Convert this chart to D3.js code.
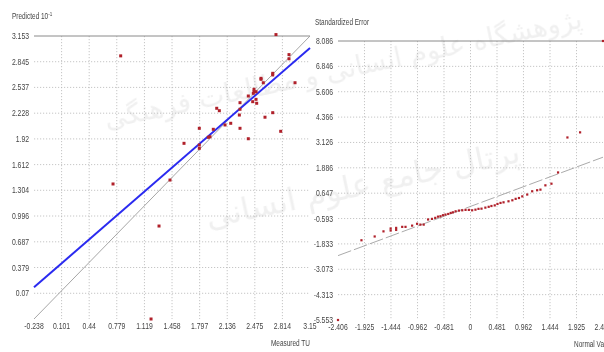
<!DOCTYPE html>
<html>
<head>
<meta charset="utf-8">
<script src="https://cdn.jsdelivr.net/npm/d3@7"></script>
<style>
  html, body { margin: 0; padding: 0; background: #fff; }
  svg { display: block; filter: blur(0.35px); }
  .tick-label { font-family: "Liberation Sans", Arial, sans-serif; font-size: 9px; fill: #444; }
  .axis-title { font-family: "Liberation Sans", Arial, sans-serif; font-size: 8.5px; fill: #444; }
</style>
</head>
<body>
<svg id="chart" width="604" height="352"></svg>
<script>
// Left panel: predicted vs measured
const measuredTU = [2.735, 0.827, 2.895, 2.895, 2.695, 2.695, 2.551, 2.551, 2.579, 2.969,
  2.465, 2.465, 2.49, 2.456, 2.395, 2.49, 2.449, 2.498, 2.293, 2.007, 2.039, 2.293, 2.285,
  2.695, 2.60, 2.179, 2.109, 2.293, 1.965, 1.793, 1.924, 1.904, 2.793, 2.395, 1.793, 1.793,
  1.605, 1.433, 0.733, 1.298, 1.20];
const predictedTU = [3.17, 2.915, 2.93, 2.88, 2.706, 2.686, 2.646, 2.634, 2.593, 2.593,
  2.514, 2.485, 2.485, 2.466, 2.434, 2.394, 2.366, 2.347, 2.354, 2.287, 2.258, 2.275, 2.206,
  2.234, 2.18, 2.107, 2.087, 2.047, 2.035, 2.047, 1.946, 1.939, 2.011, 1.922, 1.847, 1.807,
  1.867, 1.427, 1.38, 0.876, -0.238];
const leftXTicks = [-0.238, 0.101, 0.44, 0.779, 1.119, 1.458, 1.797, 2.136, 2.475, 2.814, 3.153];
const leftXLabels = ["-0.238", "0.101", "0.44", "0.779", "1.119", "1.458", "1.797", "2.136", "2.475", "2.814", "3.15"];
const leftYTicks = [-0.238, 0.07, 0.379, 0.687, 0.996, 1.304, 1.612, 1.92, 2.228, 2.537, 2.845, 3.153];
const leftYLabels = ["", "0.07", "0.379", "0.687", "0.996", "1.304", "1.612", "1.92", "2.228", "2.537", "2.845", "3.153"];
const fitMeasured = [-0.238, 3.153];
const fitPredicted = [0.142, 3.01];

// Right panel: normal probability plot of standardized error
const normalValue = [-2.406, -1.98, -1.74, -1.58, -1.45, -1.45, -1.35, -1.35, -1.24, -1.18, -1.06,
  -0.97, -0.91, -0.85, -0.77, -0.70, -0.64, -0.59, -0.545, -0.50, -0.455, -0.405, -0.36,
  -0.32, -0.27, -0.21, -0.15, -0.09, -0.03, 0.03, 0.09, 0.145, 0.20, 0.27, 0.33, 0.38, 0.44,
  0.49, 0.545, 0.60, 0.69, 0.76, 0.82, 0.88, 0.94, 1.03, 1.12, 1.21, 1.27, 1.36, 1.47, 1.59,
  1.76, 1.99, 2.406];
const standardizedError = [-5.553, -1.655, -1.47, -1.22, -1.08, -1.18, -1.05, -1.15, -1.00, -1.00,
  -0.94, -0.85, -0.89, -0.89, -0.64, -0.61, -0.56, -0.50, -0.48, -0.43, -0.40, -0.37, -0.32,
  -0.29, -0.24, -0.205, -0.19, -0.17, -0.17, -0.19, -0.16, -0.12, -0.11, -0.06, -0.02, 0.02,
  0.05, 0.12, 0.17, 0.20, 0.25, 0.30, 0.37, 0.41, 0.49, 0.58, 0.74, 0.79, 0.82, 1.03, 1.11,
  1.66, 3.37, 3.62, 8.086];
const rightXTicks = [-2.406, -1.925, -1.444, -0.962, -0.481, 0, 0.481, 0.962, 1.444, 1.925, 2.406];
const rightXLabels = ["-2.406", "-1.925", "-1.444", "-0.962", "-0.481", "0", "0.481", "0.962", "1.444", "1.925", "2.406"];
const rightYTicks = [-5.553, -4.313, -3.073, -1.833, -0.593, 0.647, 1.886, 3.126, 4.366, 5.606, 6.846, 8.086];
const rightYLabels = ["-5.553", "-4.313", "-3.073", "-1.833", "-0.593", "0.647", "1.886", "3.126", "4.366", "5.606", "6.846", "8.086"];
const refNormal = [-2.406, 2.406];
const refError = [-2.406, 2.406];

const svg = d3.select("#chart");
const markColor = "#b0202a";
const squeeze = 0.76; // narrow type

// faint background text
const wm = svg.append("g").attr("fill", "#8c8c8c").attr("opacity", 0.13)
  .style("font-family", "DejaVu Sans, sans-serif");
wm.append("text").attr("transform", "translate(345,78) rotate(-12)")
  .attr("text-anchor", "middle").attr("font-size", 27)
  .text("پژوهشگاه علوم انسانی و مطالعات فرهنگی");
wm.append("text").attr("transform", "translate(365,195) rotate(-12)")
  .attr("text-anchor", "middle").attr("font-size", 32)
  .text("پرتال جامع علوم انسانی");

function label(sel, x, y) {
  sel.attr("transform", (d, i) => `translate(${x(d, i)},${y(d, i)}) scale(${squeeze},1)`);
}

function panel(cfg) {
  const g = svg.append("g");
  const x = d3.scaleLinear().domain(cfg.xDomain).range(cfg.xRange);
  const y = d3.scaleLinear().domain(cfg.yDomain).range(cfg.yRange);

  // dotted grid
  g.append("g").selectAll("line").data(cfg.xTicks.slice(1, -1)).join("line")
    .attr("x1", d => x(d)).attr("x2", d => x(d))
    .attr("y1", cfg.yRange[1]).attr("y2", cfg.yRange[0])
    .attr("stroke", "#b8b8b8").attr("stroke-width", 0.8).attr("stroke-dasharray", "1.2,1.8");
  g.append("g").selectAll("line").data(cfg.yTicks.slice(1, -1)).join("line")
    .attr("x1", cfg.xRange[0]).attr("x2", cfg.xRange[1])
    .attr("y1", d => y(d)).attr("y2", d => y(d))
    .attr("stroke", "#b8b8b8").attr("stroke-width", 0.8).attr("stroke-dasharray", "1.2,1.8");
  // top rule
  g.append("line")
    .attr("x1", cfg.xRange[0]).attr("x2", cfg.xRange[1])
    .attr("y1", y(cfg.yDomain[1])).attr("y2", y(cfg.yDomain[1]))
    .attr("stroke", "#8a8a8a").attr("stroke-width", 1);

  // y labels
  g.append("g").selectAll("text").data(cfg.yTicks).join("text")
    .attr("class", "tick-label").attr("text-anchor", "end")
    .call(label, () => cfg.xRange[0] - 5, d => y(d) + 3)
    .text((d, i) => cfg.yLabels[i]);
  // x labels
  g.append("g").selectAll("text").data(cfg.xTicks).join("text")
    .attr("class", "tick-label").attr("text-anchor", "middle")
    .call(label, d => x(d), () => cfg.yRange[0] + 10)
    .text((d, i) => cfg.xLabels[i]);

  // titles
  g.append("text").attr("class", "axis-title")
    .call(label, () => cfg.yTitlePos[0], () => cfg.yTitlePos[1])
    .html(cfg.yTitle);
  g.append("text").attr("class", "axis-title")
    .call(label, () => cfg.xTitlePos[0], () => cfg.xTitlePos[1])
    .text(cfg.xTitle);

  return { g, x, y };
}

// ----- left panel -----
const L = panel({
  xDomain: [-0.238, 3.153], xRange: [34, 310],
  yDomain: [-0.238, 3.153], yRange: [319, 36],
  xTicks: leftXTicks, xLabels: leftXLabels,
  yTicks: leftYTicks, yLabels: leftYLabels,
  yTitle: 'Predicted 10<tspan dy="-3" font-size="6">-1</tspan>', yTitlePos: [12, 19],
  xTitle: "Measured TU", xTitlePos: [271, 346]
});
// 1:1 line
L.g.append("line")
  .attr("x1", L.x(-0.238)).attr("y1", L.y(-0.238))
  .attr("x2", L.x(3.153)).attr("y2", L.y(3.153))
  .attr("stroke", "#9c9c9c").attr("stroke-width", 0.9);
// fitted line
L.g.append("line")
  .attr("x1", L.x(fitMeasured[0])).attr("y1", L.y(fitPredicted[0]))
  .attr("x2", L.x(fitMeasured[1])).attr("y2", L.y(fitPredicted[1]))
  .attr("stroke", "#2a2af0").attr("stroke-width", 2);
L.g.append("g").selectAll("rect").data(measuredTU).join("rect")
  .attr("x", d => L.x(d) - 1.5).attr("y", (d, i) => L.y(predictedTU[i]) - 1.5)
  .attr("width", 3).attr("height", 3).attr("fill", markColor);

// ----- right panel -----
const R = panel({
  xDomain: [-2.406, 2.406], xRange: [338, 603],
  yDomain: [-5.553, 8.086], yRange: [320, 41],
  xTicks: rightXTicks, xLabels: rightXLabels,
  yTicks: rightYTicks, yLabels: rightYLabels,
  yTitle: "Standardized Error", yTitlePos: [315, 25],
  xTitle: "Normal Value", xTitlePos: [574, 347]
});
R.g.append("line")
  .attr("x1", R.x(refNormal[0])).attr("y1", R.y(refError[0]))
  .attr("x2", R.x(refNormal[1])).attr("y2", R.y(refError[1]))
  .attr("stroke", "#a0a0a0").attr("stroke-width", 0.9).attr("stroke-dasharray", "14,3");
R.g.append("g").selectAll("rect").data(normalValue).join("rect")
  .attr("x", d => R.x(d) - 1.1).attr("y", (d, i) => R.y(standardizedError[i]) - 1.1)
  .attr("width", 2.2).attr("height", 2.2).attr("fill", markColor);
</script>
</body>
</html>
